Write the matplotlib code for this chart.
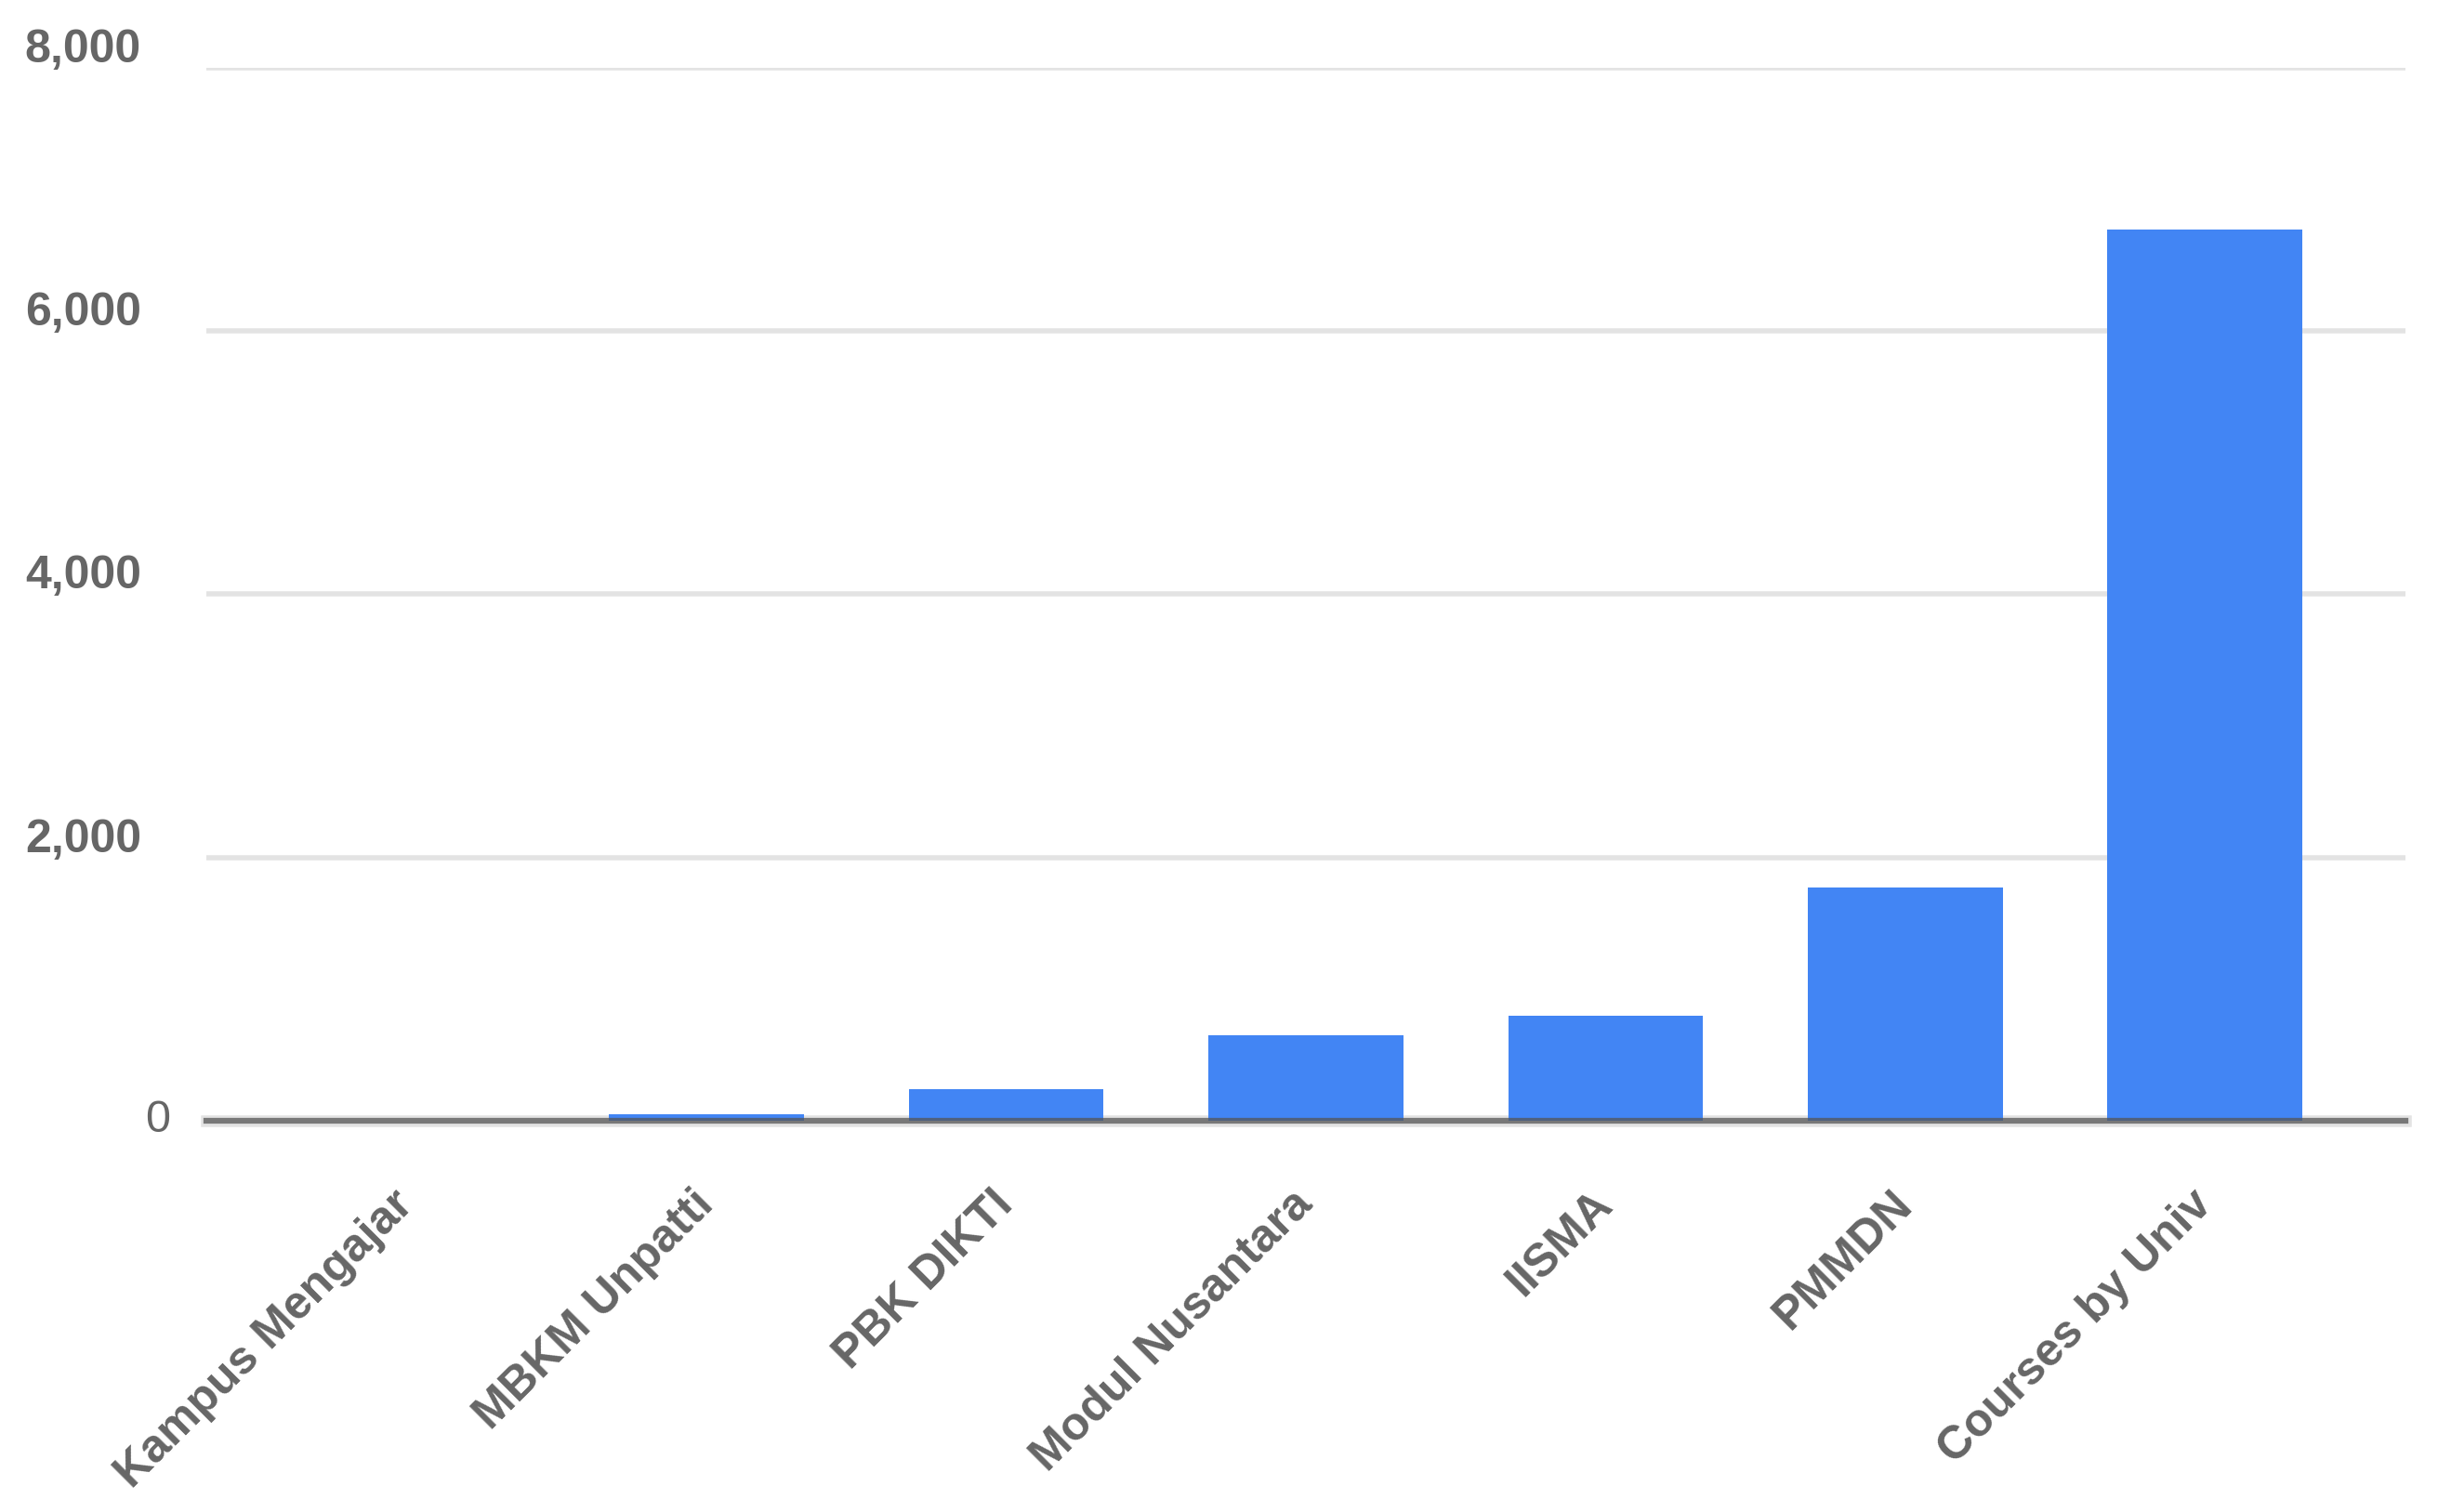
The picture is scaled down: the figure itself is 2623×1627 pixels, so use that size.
import matplotlib
matplotlib.use("Agg")
import matplotlib.pyplot as plt
from matplotlib.transforms import blended_transform_factory, offset_copy

categories = ["Kampus Mengajar", "MBKM Unpatti", "PBK DIKTI", "Modul Nusantara",
              "IISMA", "PMMDN", "Courses by Univ"]
values = [0, 50, 235, 645, 795, 1770, 6775]
yticks = [0, 2000, 4000, 6000, 8000]

plt.rcParams['font.family'] = ['Liberation Sans', 'DejaVu Sans']

fig = plt.figure(figsize=(26.23, 16.27), dpi=100)
ax = fig.add_axes([0.0846, 0.259, 0.9021, 0.696])

ax.bar(range(len(categories)), values, width=0.65, color="#4285f4", zorder=3)

ax.set_xlim(-0.67, len(categories) - 1 + 0.67)
ax.set_ylim(0, 8000)
ax.set_yticks(yticks)
ax.set_yticklabels([])
ax.grid(axis="y", color="#e3e3e3", linewidth=4, zorder=0)
ax.axhline(0, color="#e3e3e3", linewidth=9, zorder=2, clip_on=False)
ax.axhline(0, color="#555555", alpha=0.75, linewidth=4.5, zorder=5, clip_on=False)

for s in ax.spines.values():
    s.set_visible(False)
ax.tick_params(axis="both", length=0)
ax.tick_params(axis="x", labelsize=36, labelcolor="#666666", pad=60)

# y labels: Google-Charts style, non-zero ones sit above their gridline
base = blended_transform_factory(ax.transAxes, ax.transData)
for v in yticks:
    if v == 0:
        tr = offset_copy(base, fig=fig, x=-39, y=0, units="dots")
        ax.text(0, v, "0", transform=tr, ha="right", va="center",
                fontsize=35, color="#666666", clip_on=False)
    else:
        tr = offset_copy(base, fig=fig, x=-70, y=19, units="dots")
        ax.text(0, v, f"{v:,}", transform=tr, ha="right", va="center",
                fontsize=36, color="#666666", fontweight="bold", clip_on=False)

ax.set_xticks(range(len(categories)))
ax.set_xticklabels(categories, rotation=45, ha="right", va="center",
                   rotation_mode="anchor", fontweight="bold")

fig.savefig("out.png", dpi=100, facecolor="white")
